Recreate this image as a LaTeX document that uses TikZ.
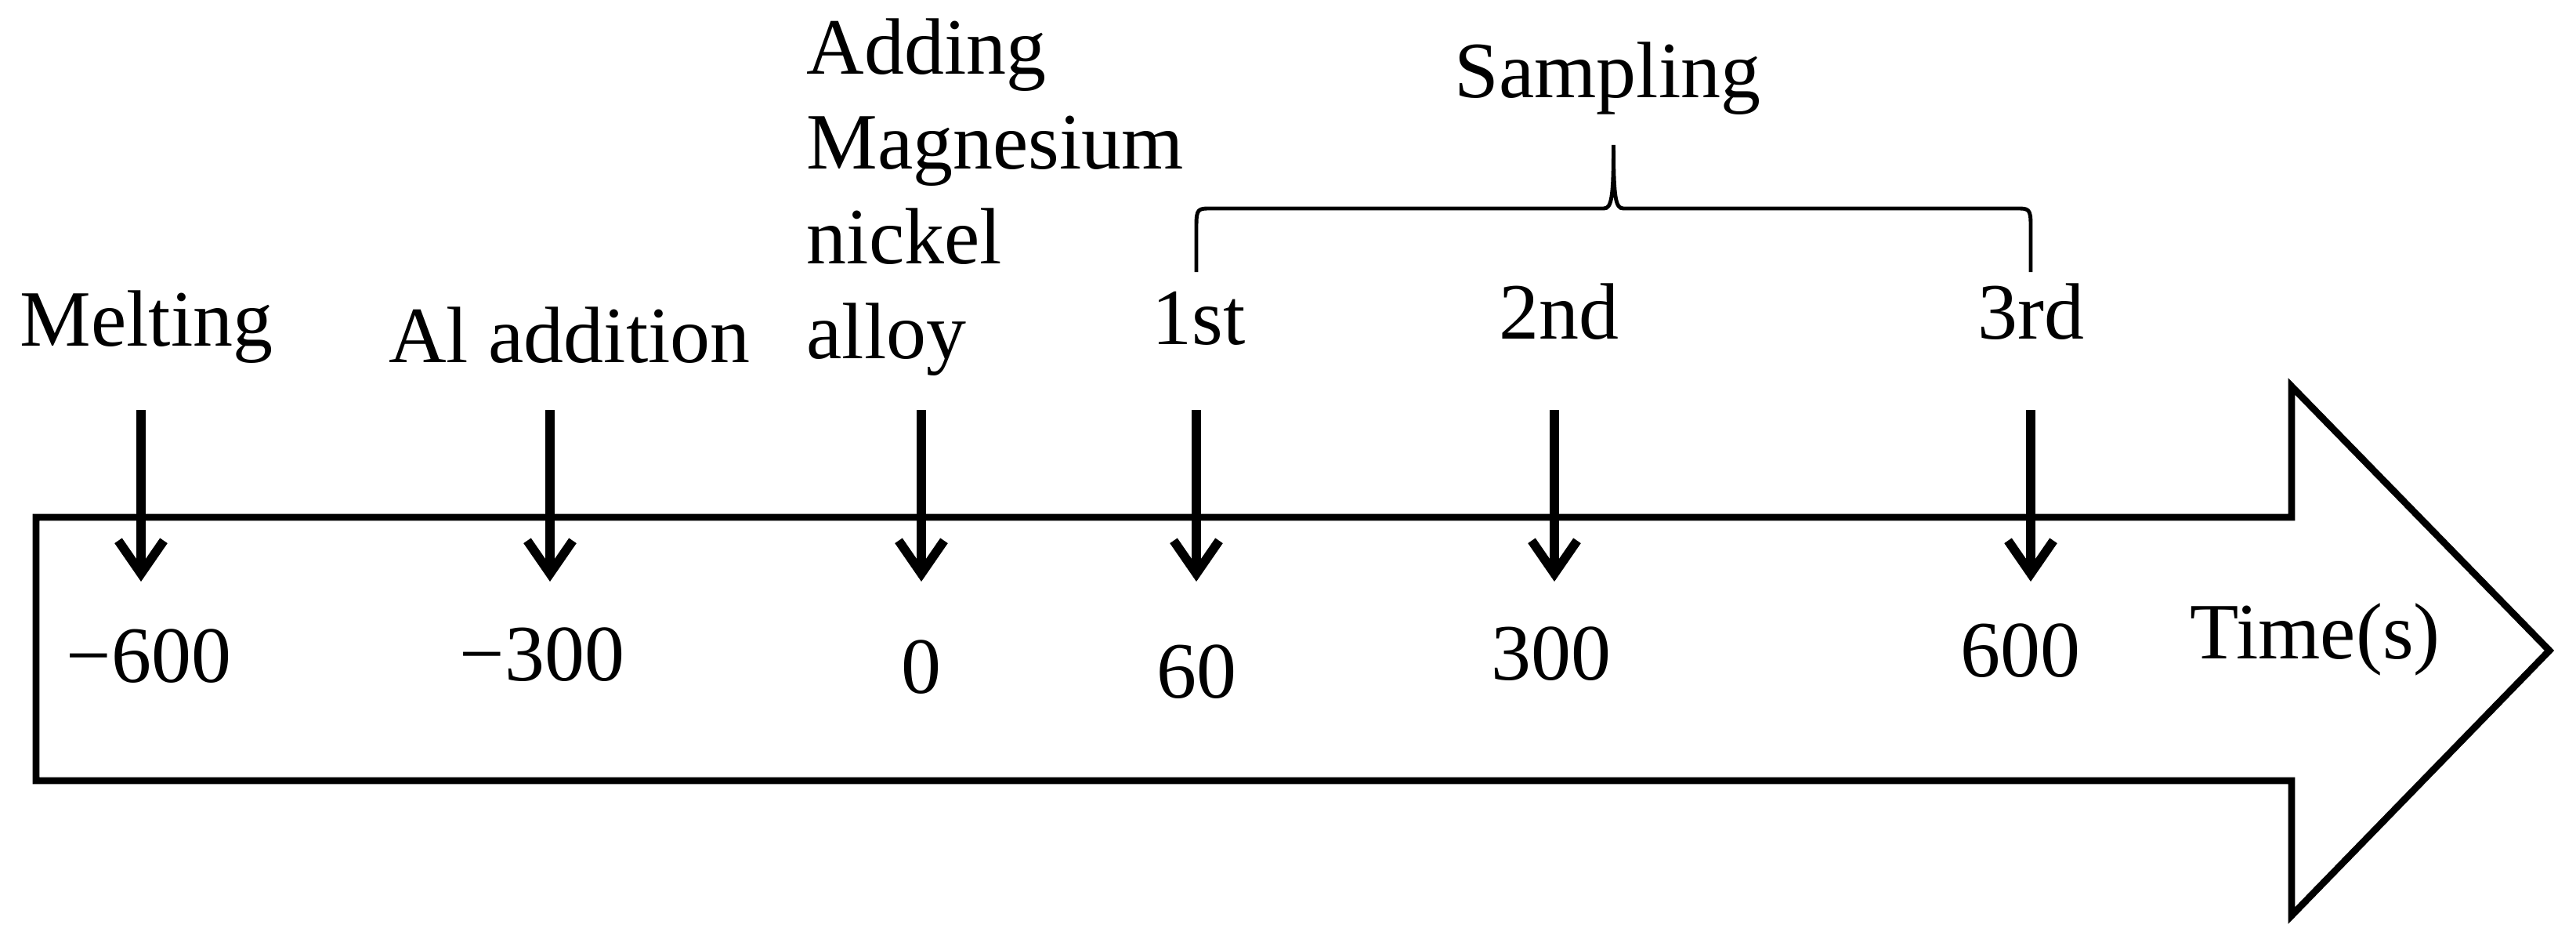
\documentclass[tikz,border=0pt]{standalone}
\usepackage{fontspec}
\setmainfont{Liberation Serif}
\usetikzlibrary{arrows.meta}

\begin{document}
\begin{tikzpicture}[x=1cm, y=1cm, >={Straight Barb[length=0.42cm, width=0.58cm]},
  timetext/.style={font=\fontsize{29}{34.4}\selectfont, inner sep=0pt},
  marker/.style={->, line width=3.3pt}]
\useasboundingbox (0,0) rectangle (32.88,11.97);

% time arrow
\draw [line width=2.5pt, line join=miter] (0.46,5.37) -- (29.25,5.37) -- (29.25,7.04)
  -- (32.54,3.67) -- (29.25,0.29) -- (29.25,2.01) -- (0.46,2.01) -- cycle;

\foreach \x [count=\i] in {1.80,7.02,11.76,15.27,19.84,25.92} {
  \coordinate (top-\i) at (\x,6.74);
  \coordinate (hit-\i) at (\x,4.55);
  \draw [marker] (top-\i) -- (hit-\i);
}

\node [timetext, anchor=base] (melt) at (1.87,7.56) {Melting};
\node [timetext, anchor=base] (al) at (7.27,7.35) {Al addition};
\node [timetext, anchor=base west, align=left] (mg) at (10.29,7.40)
  {Adding\\Magnesium\\nickel\\alloy};

\foreach \x/\y/\l [count=\i] in {15.30/7.58/1st, 19.90/7.65/2nd, 25.92/7.65/3rd}
  \node [timetext, anchor=base] (samp-\i) at (\x,\y) {\l};

\foreach \x/\y/\v [count=\i] in {1.90/3.27/−600, 6.92/3.29/−300, 11.76/3.13/0,
    15.27/3.07/60, 19.80/3.30/300, 25.79/3.34/600}
  \node [timetext, anchor=base] (val-\i) at (\x,\y) {\v};

\node [timetext, anchor=base] (time) at (29.55,3.57) {Time(s)};

% brace over the samples
\coordinate (br-l) at (15.27,8.50);
\coordinate (br-r) at (25.92,8.50);
\coordinate (br-t) at (20.595,10.12);
\draw [line width=1.4pt] (br-l) -- (15.27,9.10) .. controls (15.27,9.31) and (15.30,9.31) .. (15.45,9.31)
  -- (20.47,9.31) .. controls (20.57,9.31) and (20.595,9.45) .. (br-t)
  .. controls (20.595,9.45) and (20.62,9.31) .. (20.72,9.31)
  -- (25.74,9.31) .. controls (25.89,9.31) and (25.92,9.31) .. (25.92,9.10) -- (br-r);
\node [timetext, anchor=base] (sampling) at (20.52,10.72) {Sampling};
\end{tikzpicture}
\end{document}
